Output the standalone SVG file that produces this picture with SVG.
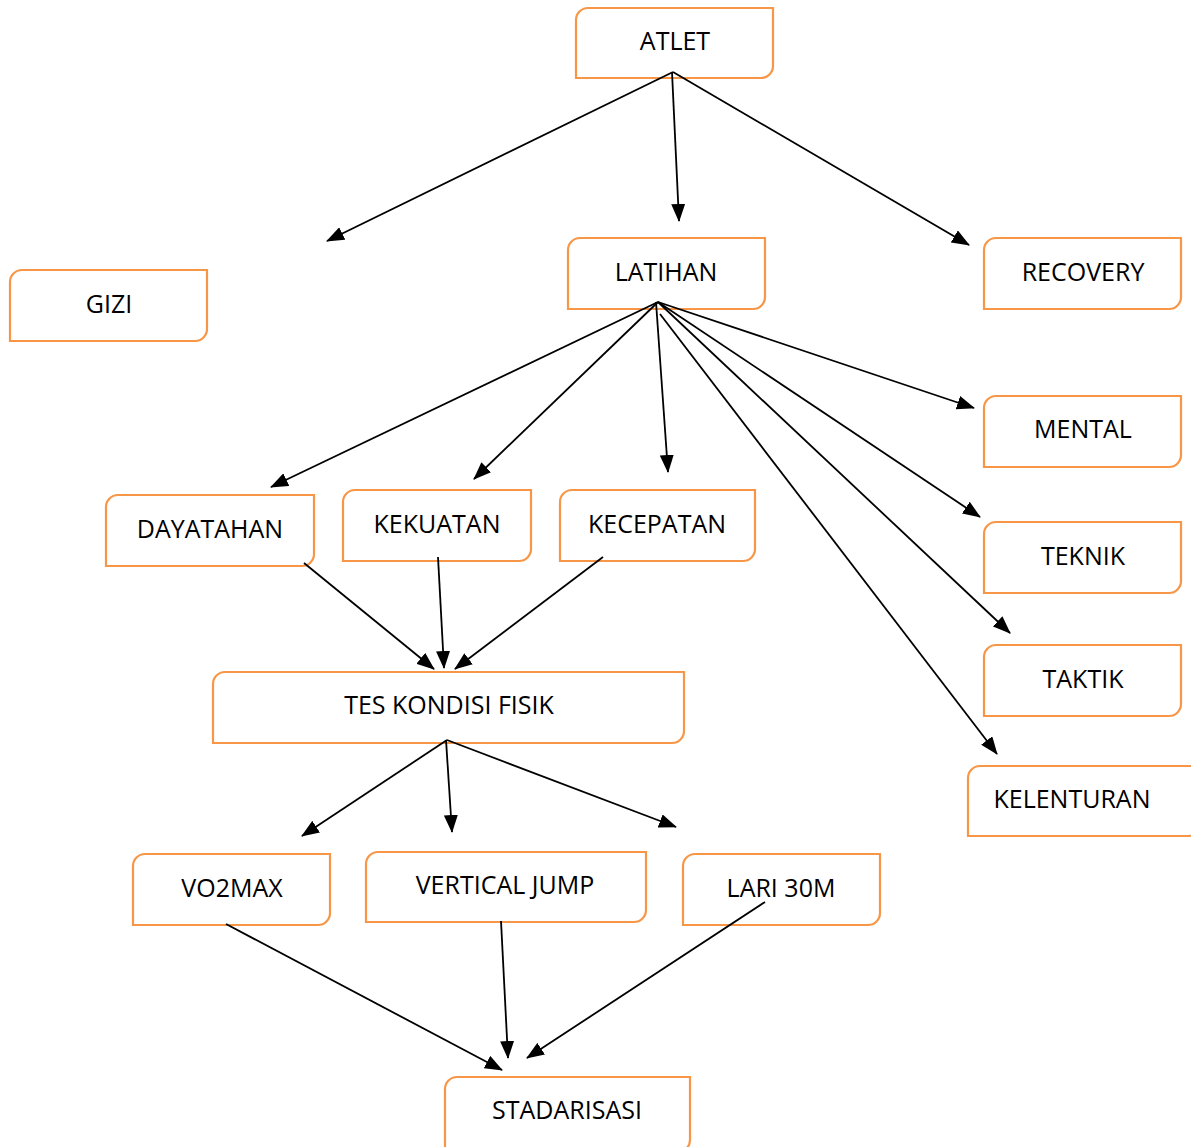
<svg xmlns="http://www.w3.org/2000/svg" width="1191" height="1147" viewBox="0 0 1191 1147">
<style>
.box{fill:#fff;stroke:#F79646;stroke-width:2.2}
.lbl{font-family:"Open Sans","Liberation Sans",sans-serif;font-size:25px;fill:#000;text-anchor:middle}
.c line{stroke:#000;stroke-width:1.8;marker-end:url(#ah)}
</style>
<defs>
<marker id="ah" markerUnits="userSpaceOnUse" markerWidth="18" markerHeight="14" viewBox="0 0 18 14" refX="17" refY="7" orient="auto">
<path d="M0,0 L18,7 L0,14 Z" fill="#000"/>
</marker>
</defs>
<rect width="1191" height="1147" fill="#fff"/>
<g id="atlet"><path class="box" d="M588,8 H773 V66 A12,12 0 0 1 761,78 H576 V20 A12,12 0 0 1 588,8 Z"/><text class="lbl" x="675" y="50">ATLET</text></g>
<g id="latihan"><path class="box" d="M580,238 H765 V297 A12,12 0 0 1 753,309 H568 V250 A12,12 0 0 1 580,238 Z"/><text class="lbl" x="666" y="281">LATIHAN</text></g>
<g id="recovery"><path class="box" d="M996,238 H1181 V297 A12,12 0 0 1 1169,309 H984 V250 A12,12 0 0 1 996,238 Z"/><text class="lbl" x="1083" y="281">RECOVERY</text></g>
<g id="gizi"><path class="box" d="M22,270 H207 V329 A12,12 0 0 1 195,341 H10 V282 A12,12 0 0 1 22,270 Z"/><text class="lbl" x="109" y="313">GIZI</text></g>
<g id="mental"><path class="box" d="M996,396 H1181 V455 A12,12 0 0 1 1169,467 H984 V408 A12,12 0 0 1 996,396 Z"/><text class="lbl" x="1083" y="438">MENTAL</text></g>
<g id="teknik"><path class="box" d="M996,522 H1181 V581 A12,12 0 0 1 1169,593 H984 V534 A12,12 0 0 1 996,522 Z"/><text class="lbl" x="1083" y="565">TEKNIK</text></g>
<g id="taktik"><path class="box" d="M996,645 H1181 V704 A12,12 0 0 1 1169,716 H984 V657 A12,12 0 0 1 996,645 Z"/><text class="lbl" x="1083" y="688">TAKTIK</text></g>
<g id="kelenturan"><path class="box" d="M980,766 H1200 V824 A12,12 0 0 1 1188,836 H968 V778 A12,12 0 0 1 980,766 Z"/><text class="lbl" x="1072" y="808">KELENTURAN</text></g>
<g id="dayatahan"><path class="box" d="M118,495 H314 V554 A12,12 0 0 1 302,566 H106 V507 A12,12 0 0 1 118,495 Z"/><text class="lbl" x="210" y="538">DAYATAHAN</text></g>
<g id="kekuatan"><path class="box" d="M355,490 H531 V549 A12,12 0 0 1 519,561 H343 V502 A12,12 0 0 1 355,490 Z"/><text class="lbl" x="437" y="533">KEKUATAN</text></g>
<g id="kecepatan"><path class="box" d="M572,490 H755 V549 A12,12 0 0 1 743,561 H560 V502 A12,12 0 0 1 572,490 Z"/><text class="lbl" x="657" y="533">KECEPATAN</text></g>
<g id="tes"><path class="box" d="M225,672 H684 V731 A12,12 0 0 1 672,743 H213 V684 A12,12 0 0 1 225,672 Z"/><text class="lbl" x="449" y="714">TES KONDISI FISIK</text></g>
<g id="vo2max"><path class="box" d="M145,854 H330 V913 A12,12 0 0 1 318,925 H133 V866 A12,12 0 0 1 145,854 Z"/><text class="lbl" x="232" y="897">VO2MAX</text></g>
<g id="vertical"><path class="box" d="M378,852 H646 V910 A12,12 0 0 1 634,922 H366 V864 A12,12 0 0 1 378,852 Z"/><text class="lbl" x="505" y="894">VERTICAL JUMP</text></g>
<g id="lari"><path class="box" d="M695,854 H880 V913 A12,12 0 0 1 868,925 H683 V866 A12,12 0 0 1 695,854 Z"/><text class="lbl" x="781" y="897">LARI 30M</text></g>
<g id="stadarisasi"><path class="box" d="M457,1077 H690 V1140 A12,12 0 0 1 678,1152 H445 V1089 A12,12 0 0 1 457,1077 Z"/><text class="lbl" x="567" y="1119">STADARISASI</text></g>
<g class="c" id="connectors">
<line x1="673" y1="72" x2="327" y2="241"/>
<line x1="672" y1="72" x2="679" y2="221"/>
<line x1="673" y1="72" x2="969" y2="245"/>
<line x1="658" y1="302" x2="271" y2="487"/>
<line x1="658" y1="302" x2="474" y2="479"/>
<line x1="656" y1="302" x2="668" y2="472"/>
<line x1="658" y1="302" x2="974" y2="408"/>
<line x1="658" y1="302" x2="980" y2="517"/>
<line x1="658" y1="302" x2="1010" y2="633"/>
<line x1="660" y1="314" x2="997" y2="754"/>
<line x1="304" y1="563" x2="434" y2="669"/>
<line x1="438" y1="557" x2="444" y2="668"/>
<line x1="603" y1="557" x2="455" y2="669"/>
<line x1="447" y1="740" x2="302" y2="836"/>
<line x1="446" y1="740" x2="452" y2="832"/>
<line x1="447" y1="740" x2="676" y2="827"/>
<line x1="226" y1="924" x2="502" y2="1070"/>
<line x1="501" y1="921" x2="508" y2="1058"/>
<line x1="765" y1="902" x2="527" y2="1058"/>
</g>
</svg>
